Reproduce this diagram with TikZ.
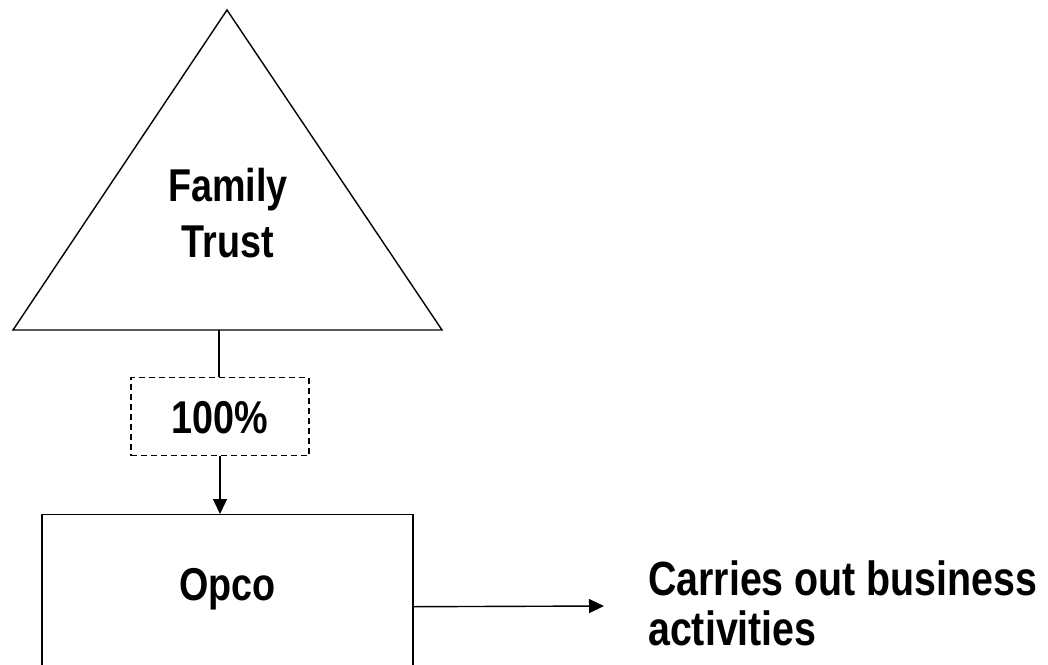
\documentclass[tikz,border=0pt]{standalone}
\usepackage{fontspec}
\setmainfont{Liberation Sans}[FakeStretch=0.82]
\usetikzlibrary{arrows.meta}
\begin{document}
\begin{tikzpicture}[x=1pt,y=-1pt,
  line/.style={line width=1.4pt},
  arrowline/.style={line, -{Triangle[length=15pt,width=14pt]}},
  lbl/.style={font=\fontsize{46}{56}\selectfont\bfseries, align=center, inner sep=0pt},
  boxnode/.style={draw, line, inner sep=0pt, font=\fontsize{46}{56}\selectfont\bfseries},
  pctbox/.style={draw, line, dash pattern=on 6pt off 4pt, inner sep=0pt,
    minimum width=178pt, text height=56pt, text depth=22pt,
    font=\fontsize{46}{56}\selectfont\bfseries},
  note/.style={font=\fontsize{48}{50}\selectfont\bfseries, align=left, inner sep=0pt}]
\useasboundingbox (0,0) rectangle (1048,664);
\clip (0,0) rectangle (1048,664);

% trust triangle
\coordinate (apex) at (227,10);
\coordinate (bl) at (13,330);
\coordinate (br) at (442,330);
\coordinate (tbase) at (219,330);
\draw[line, line join=miter] (apex) -- (br) -- (bl) -- cycle;
\node[lbl] (trust) at (228,213) {Family\\Trust};

% ownership percentage
\node[pctbox, anchor=north] (pct) at (220,377) {100\%};

% operating company
\node[boxnode, anchor=north, minimum width=371pt, text height=86pt, text depth=98pt]
  (opco) at (227.5,514) {Opco};

% activities note
\node[note, anchor=base west] (act) at (648,645) {Carries out business\\activities};
\coordinate (tip) at (604,606);

\draw[line] (tbase) -- (tbase |- pct.north);
\draw[arrowline] (pct.south) -- (pct.south |- opco.north);
\draw[arrowline] (opco.east) -- (tip);
\end{tikzpicture}
\end{document}
